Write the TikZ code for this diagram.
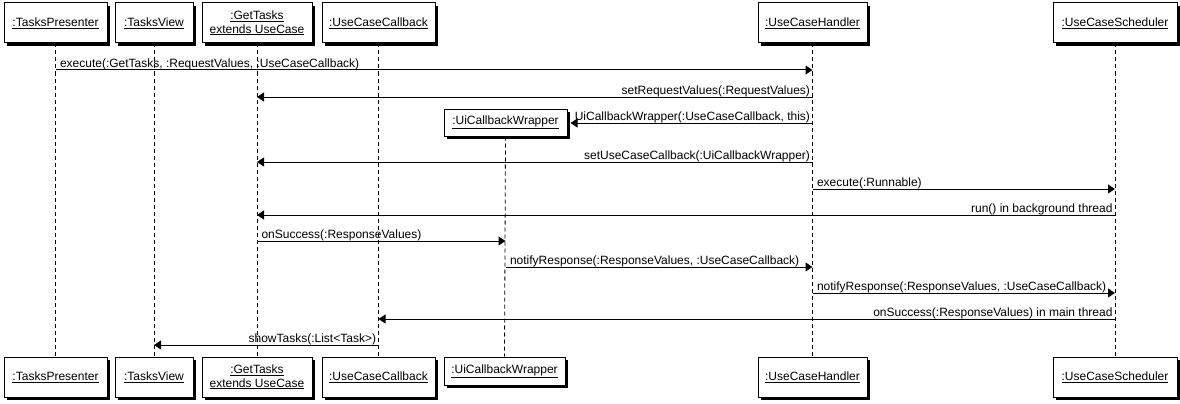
\documentclass[tikz,border=0pt]{standalone}
\usepackage{fontspec}
\setmainfont{Liberation Sans}
\usetikzlibrary{arrows.meta,shadows}
\begin{document}
\begin{tikzpicture}[x=1pt,y=-1pt,
  obj/.style={draw=black, line width=1pt, fill=white, inner sep=0pt, align=center,
    font=\fontsize{12}{14.5}\selectfont,
    general shadow={fill=black, shadow xshift=3pt, shadow yshift=-3pt}},
  life/.style={line width=0.8pt, dash pattern=on 4pt off 3pt},
  msg/.style={line width=1pt, -{Triangle[length=7pt,width=9pt]}},
  lr/.style={pos=0, anchor=base west, xshift=4pt, yshift=3pt, inner sep=0pt, font=\fontsize{12}{14}\selectfont},
  rl/.style={pos=0, anchor=base east, xshift=-2pt, yshift=3pt, inner sep=0pt, font=\fontsize{12}{14}\selectfont}]
\useasboundingbox (0,0) rectangle (1180,404);
% top objects
\node[obj, minimum width=103pt, minimum height=40pt] (tp) at (55.5,23) {\underline{:TasksPresenter}};
\node[obj, minimum width=78pt, minimum height=40pt] (tv) at (154,23) {\underline{:TasksView}};
\node[obj, minimum width=110pt, minimum height=40pt] (gt) at (257,23) {\underline{:GetTasks}\\[-1pt]\underline{extends UseCase}};
\node[obj, minimum width=113pt, minimum height=40pt] (ucc) at (378.5,23) {\underline{:UseCaseCallback}};
\node[obj, minimum width=109pt, minimum height=40pt] (uch) at (812.5,23) {\underline{:UseCaseHandler}};
\node[obj, minimum width=124pt, minimum height=40pt] (ucs) at (1115,23) {\underline{:UseCaseScheduler}};
\node[obj, minimum width=123pt, minimum height=27pt] (ucw) at (505.5,122.5) {\underline{:UiCallbackWrapper}};
% bottom objects
\node[obj, minimum width=103pt, minimum height=40pt] (tpb) at (55.5,377) {\underline{:TasksPresenter}};
\node[obj, minimum width=78pt, minimum height=40pt] (tvb) at (154,377) {\underline{:TasksView}};
\node[obj, minimum width=110pt, minimum height=40pt] (gtb) at (257,377) {\underline{:GetTasks}\\[-1pt]\underline{extends UseCase}};
\node[obj, minimum width=113pt, minimum height=40pt] (uccb) at (378.5,377) {\underline{:UseCaseCallback}};
\node[obj, minimum width=121pt, minimum height=28pt] (ucwb) at (504.5,371) {\underline{:UiCallbackWrapper}};
\node[obj, minimum width=109pt, minimum height=40pt] (uchb) at (812.5,377) {\underline{:UseCaseHandler}};
\node[obj, minimum width=124pt, minimum height=40pt] (ucsb) at (1115,377) {\underline{:UseCaseScheduler}};
% lifelines
\foreach \a/\b in {tp/tpb,tv/tvb,gt/gtb,ucc/uccb,ucw/ucwb,uch/uchb,ucs/ucsb}
  \draw[life] (\a.south) -- (\b.north);
% messages
\draw[msg] (tp.south |- 0,70) -- (uch.south |- 0,70) node[lr] {execute(:GetTasks, :RequestValues, :UseCaseCallback)};
\draw[msg] (uch.south |- 0,97) -- (gt.south |- 0,97) node[rl] {setRequestValues(:RequestValues)};
\draw[msg] (uch.south |- 0,123) -- ([xshift=3pt]ucw.east |- 0,123) node[rl] {UiCallbackWrapper(:UseCaseCallback, this)};
\draw[msg] (uch.south |- 0,162) -- (gt.south |- 0,162) node[rl] {setUseCaseCallback(:UiCallbackWrapper)};
\draw[msg] (uch.south |- 0,189) -- (ucs.south |- 0,189) node[lr] {execute(:Runnable)};
\draw[msg] (ucs.south |- 0,215) -- (gt.south |- 0,215) node[rl] {run() in background thread};
\draw[msg] (gt.south |- 0,241) -- (ucw.south |- 0,241) node[lr] {onSuccess(:ResponseValues)};
\draw[msg] (ucw.south |- 0,267) -- (uch.south |- 0,267) node[lr] {notifyResponse(:ResponseValues, :UseCaseCallback)};
\draw[msg] (uch.south |- 0,293) -- (ucs.south |- 0,293) node[lr] {notifyResponse(:ResponseValues, :UseCaseCallback)};
\draw[msg] (ucs.south |- 0,319) -- (ucc.south |- 0,319) node[rl] {onSuccess(:ResponseValues) in main thread};
\draw[msg] (ucc.south |- 0,345) -- (tv.south |- 0,345) node[rl] {showTasks(:List<Task>)};
\end{tikzpicture}
\end{document}
